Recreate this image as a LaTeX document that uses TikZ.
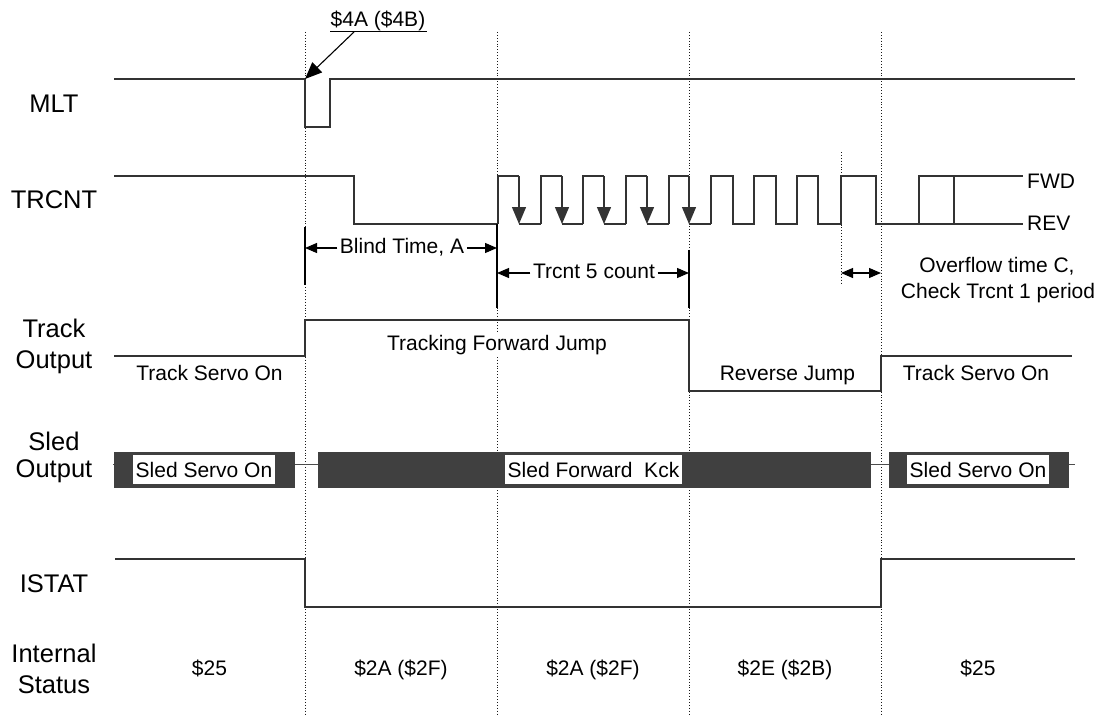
\documentclass[tikz,border=0pt]{standalone}
\usepackage{fontspec}
\setmainfont{Liberation Sans}
\usetikzlibrary{arrows.meta}
\begin{document}
\begin{tikzpicture}[x=1pt,y=-1pt,
  sig/.style={line width=1.3pt, draw=black!80},
  guide/.style={dotted, line width=0.9pt, draw=black!90},
  lbl/.style={font=\fontsize{25.5}{31}\selectfont, anchor=base, inner sep=0pt},
  txt/.style={font=\fontsize{21}{25}\selectfont, anchor=base, inner sep=0pt},
  dimtxt/.style={txt, inner xsep=2.5pt},
  bigtip/.style={-{Triangle[length=17pt,width=14pt]}},
  dimarrow/.style={-{Triangle[length=12pt,width=10pt]}, line width=1.1pt},
  bar/.style={fill=black!75, draw=none},
  sledbox/.style={fill=white, font=\fontsize{21}{25}\selectfont, inner xsep=3pt, inner ysep=0pt, minimum height=29pt},
  thin/.style={line width=0.9pt, draw=black!70}
]
\useasboundingbox (0,0) rectangle (1106,717);

% guide lines
\foreach \x in {305,497,689,881} \draw[guide] (\x,32) -- (\x,715);
\draw[guide] (841,152) -- (841,283);

% left labels
\node[lbl] (mlt) at (54,112) {MLT};
\node[lbl] (trcnt) at (54,208) {TRCNT};
\node[lbl] (trackA) at (54,337) {Track};
\node[lbl] (trackB) at (54,368) {Output};
\node[lbl] (sledA) at (54,450) {Sled};
\node[lbl] (sledB) at (54,477) {Output};
\node[lbl] (istat) at (54,592) {ISTAT};
\node[lbl] (intA) at (54,662) {Internal};
\node[lbl] (intB) at (54,693) {Status};

% MLT
\draw[sig] (114,79) -- (305,79) -- (305,127) -- (330,127) -- (330,79) -- (1075,79);
\node[txt] (m4a) at (378,27) {\$4A (\$4B)};
\coordinate (ulA) at (330,32);
\coordinate (ulB) at (427,32);
\coordinate (ulC) at (354,32);
\coordinate (mlttip) at (305,79);
\draw[line width=1pt] (ulA) -- (ulB);
\draw[line width=1.1pt, bigtip] (ulC) -- (mlttip);

% TRCNT
\draw[sig] (114,176) -- (354,176) -- (354,224) -- (498,224);
\foreach \r/\f/\n in {498/519/541, 541/562/583, 583/604/626, 626/647/669, 669/689/711} {
  \draw[sig] (\r,224) -- (\r,176) -- (\f,176);
  \draw[sig,bigtip] (\f,176) -- (\f,224);
  \draw[sig] (\f,224) -- (\n,224);
}
\draw[sig] (711,224) -- (711,176) -- (733,176) -- (733,224) -- (754,224) -- (754,176) -- (776,176) -- (776,224) -- (797,224) -- (797,176) -- (818,176) -- (818,224) -- (841,224) -- (841,176) -- (876,176) -- (876,224) -- (1023,224);
\draw[sig] (919,224) -- (919,176) -- (1023,176);
\draw[sig] (954,176) -- (954,224);
\node[txt, anchor=base west] (fwd) at (1027,188) {FWD};
\node[txt, anchor=base west] (rev) at (1027,230) {REV};

% dimension markers
\draw[line width=1.3pt] (305,227) -- (305,285);
\draw[line width=1.3pt] (497,224) -- (497,308);
\draw[line width=1.3pt] (689,250) -- (689,308);
\node[dimtxt] (blind) at (402,253) {Blind Time, A};
\coordinate (bl) at (305,248);
\coordinate (br) at (497,248);
\draw[dimarrow] (blind.west |- bl) -- (bl);
\draw[dimarrow] (blind.east |- br) -- (br);
\node[dimtxt] (tfive) at (594,278) {Trcnt 5 count};
\coordinate (tl) at (497,273);
\coordinate (tr) at (689,273);
\draw[dimarrow] (tfive.west |- tl) -- (tl);
\draw[dimarrow] (tfive.east |- tr) -- (tr);
\coordinate (ol) at (841,273);
\coordinate (or) at (881,273);
\draw[line width=1.1pt, {Triangle[length=12pt,width=10pt]}-{Triangle[length=12pt,width=10pt]}] (ol) -- (or);
\node[txt] (ofA) at (997,272) {Overflow time C,};
\node[txt] (ofB) at (998,298) {Check Trcnt 1 period};

% Track output
\node[txt, fill=white, inner sep=3pt] (tfj) at (497,350) {Tracking Forward Jump};
\draw[sig] (114,356) -- (305,356) -- (305,320) -- (689,320) -- (689,391) -- (881,391) -- (881,356) -- (1072,356);
\node[txt] (tsoA) at (209.5,380) {Track Servo On};
\node[txt] (rj) at (787.5,380) {Reverse Jump};
\node[txt] (tsoB) at (976,380) {Track Servo On};

% Sled output
\draw[thin] (113,464) -- (1075,464);
\fill[bar] (114,452) rectangle (295,488);
\fill[bar] (318,452) rectangle (871,488);
\fill[bar] (889,452) rectangle (1069,488);
\node[sledbox] (ssA) at (204,469.5) {Sled Servo On};
\node[sledbox] (sfk) at (593.5,469.5) {Sled Forward\ \ Kck};
\node[sledbox] (ssB) at (978,469.5) {Sled Servo On};

% ISTAT
\draw[sig] (115,559) -- (305,559) -- (305,607) -- (881,607) -- (881,559) -- (1075,559);

% Internal status
\node[txt] (stA) at (209.5,675) {\$25};
\node[txt] (stB) at (401,675) {\$2A (\$2F)};
\node[txt] (stC) at (593,675) {\$2A (\$2F)};
\node[txt] (stD) at (785,675) {\$2E (\$2B)};
\node[txt] (stE) at (978,675) {\$25};
\end{tikzpicture}
\end{document}
